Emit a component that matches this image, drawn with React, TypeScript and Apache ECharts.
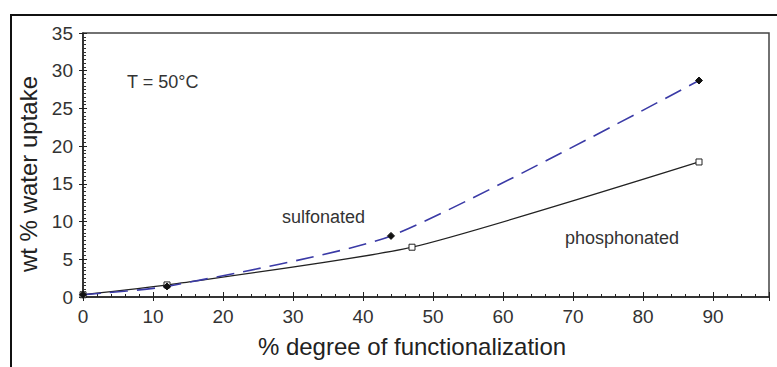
import React, { useEffect, useRef } from "react";
import * as echarts from "echarts";

const sulfonatedX = [0, 12, 44, 88];
const sulfonatedY = [0.3, 1.4, 8.1, 28.7];
const phosphonatedX = [0, 12, 47, 88];
const phosphonatedY = [0.3, 1.6, 6.6, 17.9];

const xName = "% degree of functionalization";
const yName = "wt % water uptake";
const FONT = "Liberation Sans, Arial, sans-serif";

export default function App() {
  const ref = useRef<HTMLDivElement>(null);
  useEffect(() => {
    if (!ref.current) return;
    const chart = echarts.init(ref.current, null, { renderer: "svg" });
    const sData = sulfonatedX.map((x, i) => [x, sulfonatedY[i]]);
    const pData = phosphonatedX.map((x, i) => [x, phosphonatedY[i]]);
    const axisCommon = {
      type: "value",
      splitLine: { show: false },
    };
    chart.setOption({
      animation: false,
      backgroundColor: "#fff",
      grid: {
        left: 83,
        top: 33,
        right: 8,
        bottom: 70,
        show: true,
        borderColor: "#444",
        borderWidth: 1.5,
      },
      xAxis: [
        {
          ...axisCommon,
          min: 0,
          max: 98,
          interval: 10,
          name: xName,
          nameLocation: "middle",
          nameGap: 37,
          nameTextStyle: { fontFamily: FONT, fontSize: 24, color: "#222", padding: [0, 28, 0, 0] },
          axisLine: { lineStyle: { color: "#222", width: 1.5 } },
          axisTick: { inside: true, length: 5, lineStyle: { color: "#222" } },
          minorTick: { show: true, splitNumber: 5, length: 3, lineStyle: { color: "#222" } },
          axisLabel: {
            fontFamily: FONT,
            fontSize: 19,
            color: "#333",
            margin: 10,
            showMaxLabel: false,
          },
        },
        {
          ...axisCommon,
          min: 0,
          max: 98,
          interval: 10,
          position: "bottom",
          axisLine: { show: false },
          axisTick: { inside: false, length: 4, lineStyle: { color: "#222" } },
          axisLabel: { show: false },
        },
      ],
      yAxis: [
        {
          ...axisCommon,
          min: 0,
          max: 35,
          interval: 5,
          name: yName,
          nameLocation: "middle",
          nameGap: 36,
          nameTextStyle: { fontFamily: FONT, fontSize: 24, color: "#222", padding: [0, 18, 0, 0] },
          axisLine: { lineStyle: { color: "#222", width: 1.5 } },
          axisTick: { inside: true, length: 4, lineStyle: { color: "#222" } },
          minorTick: { show: true, splitNumber: 10, length: 3, lineStyle: { color: "#333" } },
          axisLabel: { fontFamily: FONT, fontSize: 19, color: "#333", margin: 10 },
        },
        {
          ...axisCommon,
          min: 0,
          max: 35,
          interval: 5,
          position: "left",
          axisLine: { show: false },
          axisTick: { inside: false, length: 4, lineStyle: { color: "#222" } },
          axisLabel: { show: false },
        },
      ],
      graphic: [
        {
          type: "rect",
          shape: { x: 11, y: 15, width: 900, height: 500 },
          style: { fill: "none", stroke: "#111", lineWidth: 2 },
          silent: true,
        },
        {
          type: "text",
          x: 127,
          y: 82,
          style: { text: "T = 50°C", fontFamily: FONT, fontSize: 18, fill: "#333", verticalAlign: "middle" },
        },
        {
          type: "text",
          x: 282,
          y: 217,
          style: { text: "sulfonated", fontFamily: FONT, fontSize: 18, fill: "#333", verticalAlign: "middle" },
        },
        {
          type: "text",
          x: 565,
          y: 238,
          style: { text: "phosphonated", fontFamily: FONT, fontSize: 18, fill: "#333", verticalAlign: "middle" },
        },
      ],
      series: [
        {
          name: "phosphonated",
          type: "line",
          data: pData,
          smooth: 0.2,
          symbol: "rect",
          symbolSize: 6,
          itemStyle: { color: "#fff", borderColor: "#222", borderWidth: 1 },
          lineStyle: { color: "#222", width: 1.3 },
          z: 3,
        },
        {
          name: "sulfonated",
          type: "line",
          data: sData,
          smooth: 0.2,
          symbol: "diamond",
          symbolSize: 7,
          itemStyle: { color: "#111", borderColor: "#111" },
          lineStyle: { color: "#3a3aa6", width: 1.6, type: [18, 9] },
          z: 4,
        },
      ],
    });
    return () => chart.dispose();
  }, []);
  return (
    <div
      ref={ref}
      style={{ position: "fixed", left: 0, top: 0, width: 777, height: 367, background: "#fff" }}
    />
  );
}
